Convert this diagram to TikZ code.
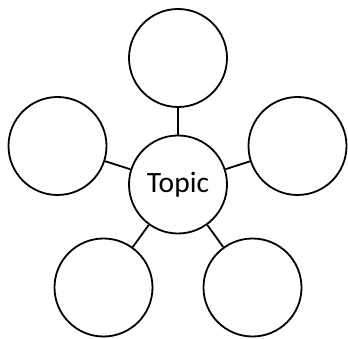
\documentclass[tikz,border=0pt]{standalone}
\usepackage{fontspec}
\setmainfont{Carlito}
\begin{document}
\begin{tikzpicture}[x=1pt,y=-1pt,
  bubble/.style={circle,draw=black,line width=1.8pt,minimum size=98pt,inner sep=0pt,fill=white},
  link/.style={draw=black,line width=1.8pt}]
\useasboundingbox (0,0) rectangle (348,339);
\node[bubble,font=\fontsize{29.5}{33}\selectfont] (c) at (178,184.5) {Topic};
\node[bubble] (t) at (178,58) {};
\node[bubble] (l) at (57.5,146) {};
\node[bubble] (r) at (297.5,146) {};
\node[bubble] (bl) at (103.5,287.5) {};
\node[bubble] (br) at (252.5,287.5) {};
\draw[link] (c) -- (t);
\draw[link] (c) -- (l);
\draw[link] (c) -- (r);
\draw[link] (c) -- (bl);
\draw[link] (c) -- (br);
\end{tikzpicture}
\end{document}
